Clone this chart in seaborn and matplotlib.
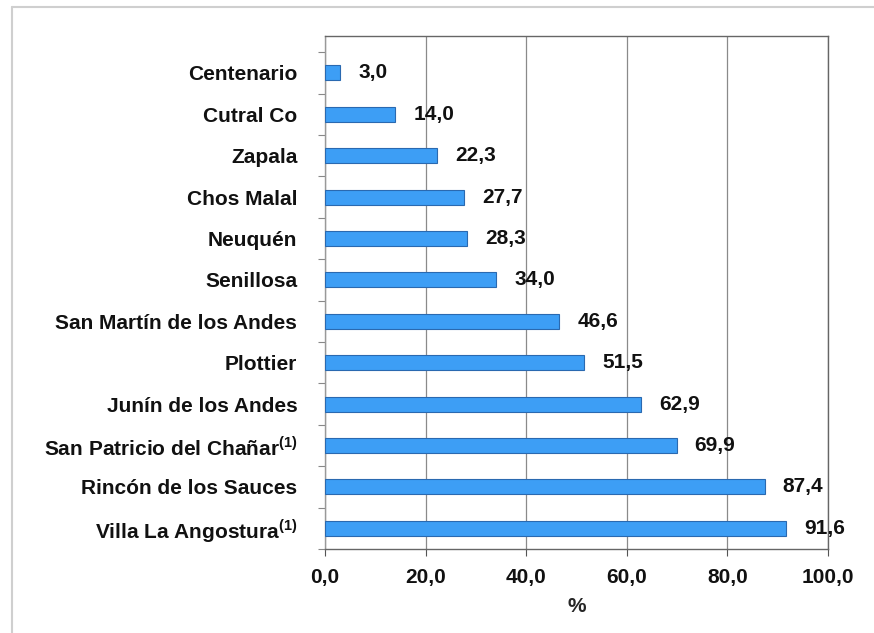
import numpy as np
import pandas as pd
import seaborn as sns
import matplotlib
import matplotlib.pyplot as plt
from matplotlib.ticker import FuncFormatter
from matplotlib.lines import Line2D

matplotlib.use("Agg")

# %% data
localidades = ["Centenario", "Cutral Co", "Zapala", "Chos Malal", "Neuquén",
               "Senillosa", "San Martín de los Andes", "Plottier",
               "Junín de los Andes", r"San Patricio del Chañar$^{\mathbf{(1)}}$",
               "Rincón de los Sauces", r"Villa La Angostura$^{\mathbf{(1)}}$"]
porcentaje = [3.0, 14.0, 22.3, 27.7, 28.3, 34.0, 46.6, 51.5, 62.9, 69.9, 87.4, 91.6]
x_ticks = [0, 20, 40, 60, 80, 100]

df = pd.DataFrame({"localidad": localidades, "pct": porcentaje})

# %% style
sns.set_style("white")
plt.rcParams["font.family"] = ["Liberation Sans", "DejaVu Sans"]
plt.rcParams["font.weight"] = "bold"
plt.rcParams["mathtext.fontset"] = "custom"
plt.rcParams["mathtext.bf"] = "Liberation Sans:bold"
plt.rcParams["mathtext.rm"] = "Liberation Sans:bold"

fig = plt.figure(figsize=(8.74, 6.33), dpi=100)
ax = fig.add_axes([0.3719, 0.1327, 0.5755, 0.8104])

sns.barplot(data=df, x="pct", y="localidad", orient="h", width=0.36,
            color="#3d9ef5", saturation=1, edgecolor="#2a69b0", linewidth=0.8,
            ax=ax, zorder=3)

# value labels with decimal comma
labels = [f"{v:.1f}".replace(".", ",") for v in porcentaje]
ax.bar_label(ax.containers[0], labels=labels, padding=13,
             fontsize=15, fontweight="bold", color="#111111")

# %% axes
ax.set_xlim(0, 100)
ax.set_ylim(11.43, -0.89)
ax.set_xticks(x_ticks)
ax.xaxis.set_major_formatter(FuncFormatter(lambda v, p: f"{v:.1f}".replace(".", ",")))
ax.tick_params(axis="x", direction="out", length=5, width=0.8, color="#555555",
               pad=9, labelsize=15, bottom=True)
ax.tick_params(axis="y", which="major", length=0, pad=20, labelsize=15)
ax.set_yticks(np.arange(-0.5, 11.6, 1.0), minor=True)
ax.tick_params(axis="y", which="minor", direction="out", length=5, width=0.8,
               color="#888888", left=True)
for t in ax.get_xticklabels() + ax.get_yticklabels():
    t.set_fontweight("bold")
    t.set_color("#111111")

ax.set_xlabel("%", fontsize=15, fontweight="bold", labelpad=7)
ax.set_ylabel("")

ax.grid(axis="x", color="#8a8a8a", linewidth=0.9, zorder=0)
ax.grid(axis="y", visible=False)
for side in ["top", "right", "bottom", "left"]:
    ax.spines[side].set_visible(True)
    ax.spines[side].set_color("#666666")
    ax.spines[side].set_linewidth(1.0)
ax.spines["left"].set_color("#999999")

# light frame of the original slide (top and left edges)
fig.add_artist(Line2D([12 / 874, 1], [1 - 7 / 633, 1 - 7 / 633],
                      transform=fig.transFigure, color="#cfcfcf", lw=1.5))
fig.add_artist(Line2D([12 / 874, 12 / 874], [0, 1 - 7 / 633],
                      transform=fig.transFigure, color="#cfcfcf", lw=1.5))

fig.savefig("out.png", dpi=100)
